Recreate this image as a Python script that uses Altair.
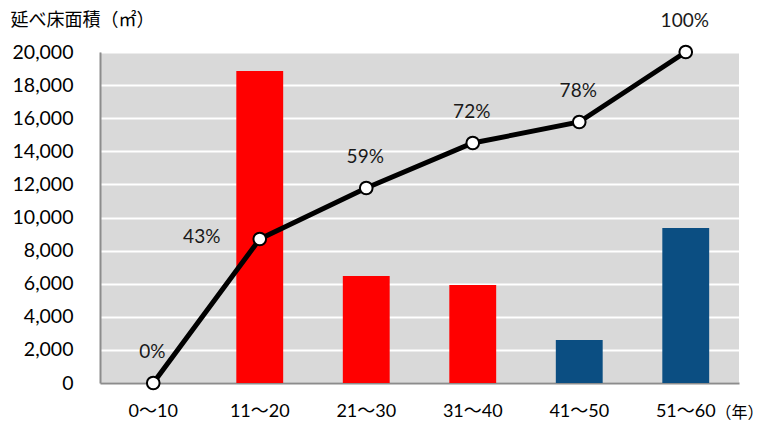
import altair as alt
import pandas as pd

categories = ["0～10", "11～20", "21～30", "31～40", "41～50", "51～60"]
floor_area = [0, 18850, 6470, 5920, 2600, 9370]
bar_colors = ["#ff0000", "#ff0000", "#ff0000", "#ff0000", "#0b4e82", "#0b4e82"]
cumulative_scaled = [0, 8700, 11780, 14500, 15770, 20000]
pct_labels = ["0%", "43%", "59%", "72%", "78%", "100%"]
y_ticks = [0, 2000, 4000, 6000, 8000, 10000, 12000, 14000, 16000, 18000, 20000]

df = pd.DataFrame({
    "cat": categories,
    "area": floor_area,
    "color": bar_colors,
    "cum": cumulative_scaled,
    "pct": pct_labels,
})

FONT = "Lato, 'Noto Sans CJK JP'"
JP = "Noto Sans CJK JP"

x = alt.X(
    "cat:N",
    sort=categories,
    scale=alt.Scale(paddingInner=0.56, paddingOuter=0.28),
    axis=alt.Axis(
        title="（年）", titleAngle=0, titleAlign="left", titleBaseline="middle",
        titleX=615, titleY=29, titleFont=JP, titleFontSize=16, titleFontWeight="normal",
        titleColor="#000000",
        labelAngle=0, labelFont=FONT, labelFontSize=18, labelPadding=19, labelColor="#000000",
        ticks=False, grid=False, domainColor="#8c8c8c", domainWidth=2,
    ),
)

y_axis = alt.Axis(
    title="延べ床面積（㎡）", titleAngle=0, titleAlign="left", titleBaseline="middle",
    titleX=-90, titleY=-32, titleFont=JP, titleFontSize=18, titleFontWeight="normal",
    titleColor="#000000",
    values=y_ticks, format=",.0f", labelFont=FONT, labelFontSize=19.5, labelPadding=27,
    labelColor="#000000", ticks=False, grid=True, gridColor="#ffffff", gridWidth=2,
    domainColor="#8c8c8c", domainWidth=2,
)
y_scale = alt.Scale(domain=[0, 20000], nice=False)

base = alt.Chart(df)

bars = base.mark_bar().encode(
    x=x,
    y=alt.Y("area:Q", scale=y_scale, axis=y_axis),
    color=alt.Color("color:N", scale=None),
)

line = base.mark_line(color="#000000", strokeWidth=5).encode(
    x=x, y=alt.Y("cum:Q", scale=y_scale, axis=y_axis)
)

points = base.mark_point(
    filled=True, fill="#ffffff", stroke="#000000", strokeWidth=2, size=160, opacity=1
).encode(x=x, y=alt.Y("cum:Q", scale=y_scale, axis=y_axis))

labels_above = base.transform_filter(alt.datum.pct != "43%").mark_text(
    font=FONT, fontSize=19, color="#1a1a1a", dy=-31, dx=-1
).encode(x=x, y=alt.Y("cum:Q", scale=y_scale, axis=y_axis), text="pct:N")

label_43 = base.transform_filter(alt.datum.pct == "43%").mark_text(
    font=FONT, fontSize=19, color="#1a1a1a", dx=-58, dy=-2
).encode(x=x, y=alt.Y("cum:Q", scale=y_scale, axis=y_axis), text="pct:N")

chart = alt.layer(bars, line, points, labels_above, label_43).properties(
    width=639,
    height=331,
    autosize=alt.AutoSizeParams(type="none"),
    padding={"left": 100, "top": 52, "right": 27, "bottom": 40},
    background="#ffffff",
).configure_view(fill="#d9d9d9", stroke=None)

chart.save("out.html", embed_options={"renderer": "svg", "actions": False})
